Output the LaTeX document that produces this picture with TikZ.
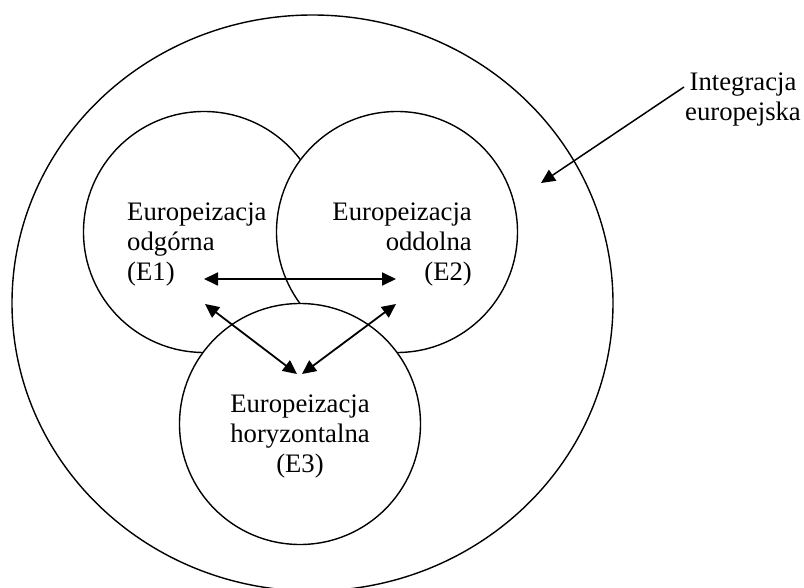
\documentclass[tikz,border=0pt]{standalone}
\usepackage{fontspec}
\setmainfont{Liberation Serif}
\usetikzlibrary{arrows.meta,shapes.geometric}
\begin{document}
\begin{tikzpicture}[x=1pt,y=-1pt,
  ring/.style={draw=black, line width=1.4pt, inner sep=0pt, outer sep=0pt},
  bubble/.style={ring, circle, fill=white, minimum size=241pt},
  link/.style={line width=1.8pt, {Triangle[length=14pt,width=13pt]}-{Triangle[length=14pt,width=13pt]}},
  pointer/.style={line width=1.5pt, -{Triangle[length=14pt,width=13pt]}},
  lbl/.style={font=\fontsize{26.7}{30}\selectfont, inner sep=0pt}]
\useasboundingbox (0,0) rectangle (804,588);
% outer ring: European integration (its bottom runs past the page edge)
\begin{scope}
  \clip (0,0) rectangle (804,588);
  \node[ring, ellipse, minimum width=601pt, minimum height=576pt] (eu) at (312.5,303) {};
\end{scope}
% the three overlapping discs, later ones covering earlier ones
\node[bubble] (c1) at (204,232) {};
\node[bubble] (c2) at (397,232) {};
\node[bubble] (c3) at (300,424) {};
% labels (base anchor sits on the last line)
\node[lbl, align=left, anchor=base west] (t1) at (127,281) {Europeizacja\\odgórna\\(E1)};
\node[lbl, align=right, anchor=base east] (t2) at (472,281) {Europeizacja\\oddolna\\(E2)};
\node[lbl, align=center, anchor=base] (t3) at (300,472) {Europeizacja\\horyzontalna\\(E3)};
\node[lbl, align=center, anchor=base] (t4) at (743,121) {Integracja\\europejska};
% arrow end points
\coordinate (h1) at (204,279);
\coordinate (h2) at (396,279);
\coordinate (d1) at (205,304);
\coordinate (d2) at (297,374);
\coordinate (d3) at (396,304);
\coordinate (d4) at (302,374);
\coordinate (p0) at (684,87);
\coordinate (p1) at (541,183);
% interactions
\draw[link] (h1) -- (h2);
\draw[link] (d1) -- (d2);
\draw[link] (d3) -- (d4);
\draw[pointer] (p0) -- (p1);
\end{tikzpicture}
\end{document}
